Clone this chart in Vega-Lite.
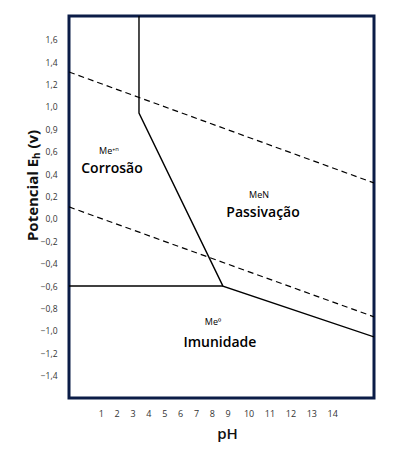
{
  "$schema": "https://vega.github.io/schema/vega-lite/v6.json",
  "autosize": "none",
  "padding": {"left": 69, "top": 16, "right": 22, "bottom": 57},
  "width": 305,
  "height": 382,
  "background": "white",
  "config": {
    "view": {"stroke": "#0b1c47", "strokeWidth": 3},
    "font": "Open Sans"
  },
  "datasets": {
    "lines": [
      {"id": "a", "ph": 3.41, "e": 1.8125, "o": 1},
      {"id": "a", "ph": 3.41, "e": 0.946, "o": 2},
      {"id": "a", "ph": 8.7, "e": -0.6, "o": 3},
      {"id": "a", "ph": 16, "e": -1.054, "o": 4},
      {"id": "b", "ph": -1, "e": -0.6, "o": 1},
      {"id": "b", "ph": 8.7, "e": -0.6, "o": 2}
    ],
    "dashed": [
      {"id": "u", "ph": -1, "e": 1.3125, "o": 1},
      {"id": "u", "ph": 16, "e": 0.321, "o": 2},
      {"id": "l", "ph": -1, "e": 0.107, "o": 1},
      {"id": "l", "ph": 16, "e": -0.875, "o": 2}
    ],
    "labels": [
      {"t": "Me⁺ⁿ", "ph": 1.52, "e": 0.607, "s": "small"},
      {"t": "Corrosão", "ph": 1.71, "e": 0.446, "s": "big"},
      {"t": "MeN", "ph": 10.5, "e": 0.214, "s": "small"},
      {"t": "Passivação", "ph": 10.69, "e": 0.054, "s": "big"},
      {"t": "Me⁰", "ph": 8.07, "e": -0.92, "s": "small"},
      {"t": "Imunidade", "ph": 8.51, "e": -1.107, "s": "big"}
    ]
  },
  "layer": [
    {
      "data": {"name": "lines"},
      "mark": {"type": "line", "color": "black", "strokeWidth": 1.4, "clip": true},
      "encoding": {
        "x": {
          "field": "ph", "type": "quantitative",
          "scale": {"domain": [-1, 9, 16], "range": [0, 158.7, 305], "nice": false, "zero": false},
          "axis": {
            "values": [1, 2, 3, 4, 5, 6, 7, 8, 9, 10, 11, 12, 13, 14],
            "format": "d",
            "tickCount": 30,
            "labelOverlap": false,
            "ticks": false, "domain": false, "grid": false,
            "labelPadding": 11, "labelFontSize": 9, "labelColor": "#333333",
            "labelFont": "Open Sans",
            "title": "pH", "titleFontSize": 15, "titleFont": "Open Sans", "titleFontWeight": 600,
            "titleColor": "#111111", "titlePadding": 8, "titleX": 158
          }
        },
        "y": {
          "field": "e", "type": "quantitative",
          "scale": {"domain": [-1.6, 1.8125], "nice": false, "zero": false},
          "axis": {
            "values": [-1.4, -1.2, -1.0, -0.8, -0.6, -0.4, -0.2, 0, 0.2, 0.4, 0.6, 0.8, 1.0, 1.2, 1.4, 1.6],
            "tickCount": 30,
            "labelExpr": "datum.value == 0.8 ? '0,9' : replace(format(datum.value, '.1f'), '.', ',')",
            "labelOverlap": false,
            "ticks": false, "domain": false, "grid": false,
            "labelPadding": 12, "labelFontSize": 8.5, "labelColor": "#333333",
            "labelFont": "Open Sans",
            "title": "Potencial Eₕ (v)", "titleFontSize": 15, "titleFont": "Open Sans", "titleFontWeight": 700,
            "titleColor": "#111111", "titleX": -37, "titleY": 169, "titleAlign": "center", "titleBaseline": "middle", "titleAngle": -90
          }
        },
        "detail": {"field": "id"},
        "order": {"field": "o"}
      }
    },
    {
      "data": {"name": "dashed"},
      "mark": {"type": "line", "color": "black", "strokeWidth": 1.2, "strokeDash": [6, 4], "clip": true},
      "encoding": {
        "x": {"field": "ph", "type": "quantitative"},
        "y": {"field": "e", "type": "quantitative"},
        "detail": {"field": "id"},
        "order": {"field": "o"}
      }
    },
    {
      "data": {"name": "labels"},
      "transform": [{"filter": "datum.s == 'small'"}],
      "mark": {"type": "text", "color": "black", "font": "Open Sans", "baseline": "middle", "align": "center", "fontSize": 9},
      "encoding": {
        "x": {"field": "ph", "type": "quantitative"},
        "y": {"field": "e", "type": "quantitative"},
        "text": {"field": "t"}
      }
    },
    {
      "data": {"name": "labels"},
      "transform": [{"filter": "datum.s == 'big'"}],
      "mark": {"type": "text", "color": "black", "font": "Open Sans", "baseline": "middle", "align": "center", "fontSize": 14, "fontWeight": 600},
      "encoding": {
        "x": {"field": "ph", "type": "quantitative"},
        "y": {"field": "e", "type": "quantitative"},
        "text": {"field": "t"}
      }
    }
  ]
}
